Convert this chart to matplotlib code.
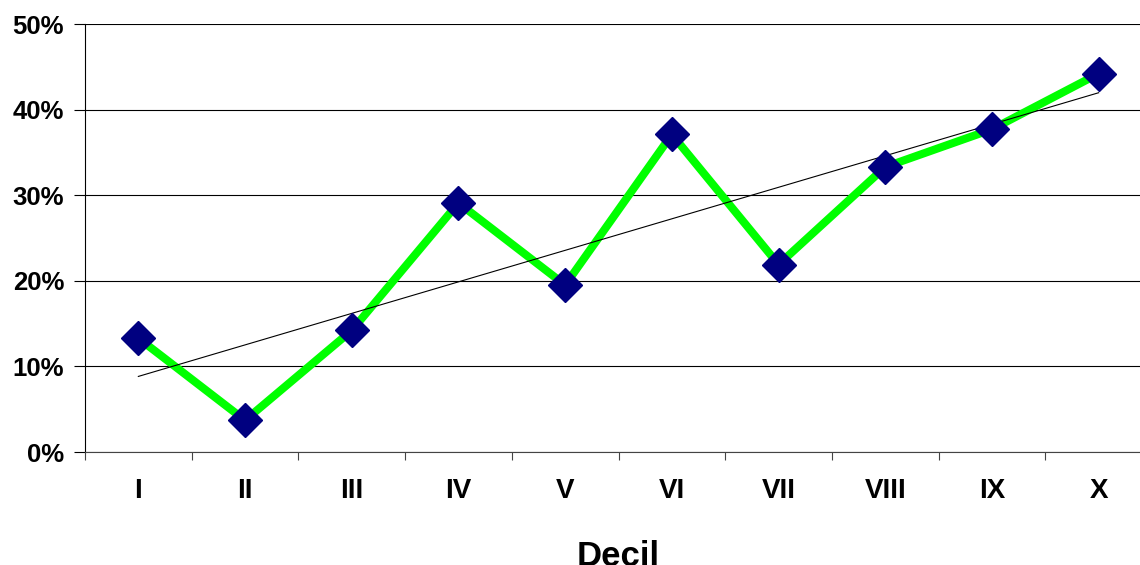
import numpy as np
import matplotlib.pyplot as plt

plt.rcParams['font.family'] = ['Liberation Sans', 'DejaVu Sans']
plt.rcParams['font.weight'] = 'bold'

# Deciles and share per decile (%)
deciles = ['I', 'II', 'III', 'IV', 'V', 'VI', 'VII', 'VIII', 'IX', 'X']
valores = [13.3, 3.7, 14.2, 29.1, 19.5, 37.1, 21.9, 33.3, 37.7, 44.2]

x = np.arange(1, len(deciles) + 1)
y = np.array(valores)

# Linear trend line
pend, inter = np.polyfit(x, y, 1)
tendencia = pend * x + inter

fig = plt.figure(figsize=(11.4, 5.65), dpi=100)
ax = fig.add_axes([85 / 1140, 1 - 452 / 565, 1067 / 1140, 428 / 565])

ax.plot(x, y, color='#00ff00', linewidth=5.8, zorder=2, solid_joinstyle='miter')
ax.plot(x, tendencia, color='black', linewidth=0.8, zorder=3)
ax.plot(x, y, linestyle='none', marker='D', markersize=17,
        markerfacecolor='#000080', markeredgecolor='#000080', zorder=4)

ax.set_xlim(0.5, 10.5)
ax.set_ylim(0, 50)

ax.set_yticks(np.arange(0, 51, 10))
ax.set_yticklabels([f'{v}%' for v in range(0, 51, 10)], fontsize=18.5, fontweight='bold')
ax.yaxis.grid(True, color='black', linewidth=0.8)
ax.set_axisbelow(True)

ax.set_xticks(x)
ax.set_xticklabels(deciles, fontsize=20, fontweight='bold')
ax.set_xticks(np.arange(0.5, 11, 1), minor=True)
ax.tick_params(axis='x', which='major', length=0, pad=19)
ax.tick_params(axis='x', which='minor', length=6, width=0.8, color='#444444')
ax.tick_params(axis='y', length=8, width=0.8, pad=7)

for lado in ['top', 'right']:
    ax.spines[lado].set_visible(False)
ax.spines['left'].set_linewidth(0.8)
ax.spines['bottom'].set_linewidth(0.8)
ax.spines['bottom'].set_color('#444444')

ax.set_xlabel('Decil', fontsize=25, fontweight='bold', labelpad=26)

fig.savefig('out.png', dpi=100)
